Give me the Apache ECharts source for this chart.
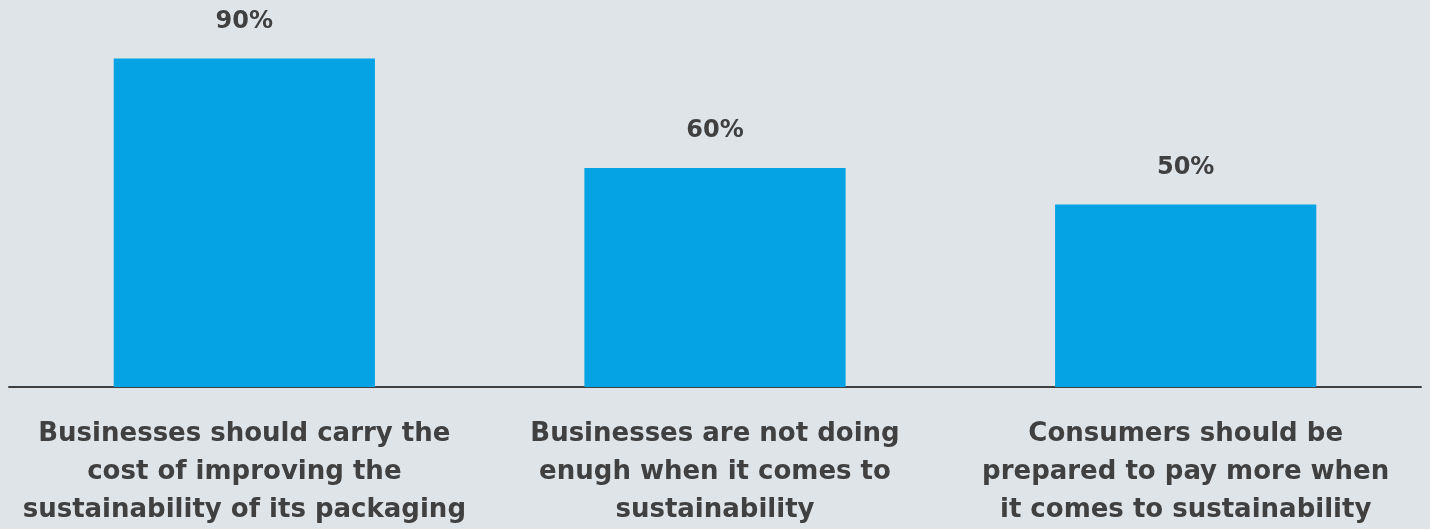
<!DOCTYPE html>
<html>
<head>
<meta charset="utf-8">
<script src="https://cdn.jsdelivr.net/npm/echarts@6/dist/echarts.min.js"></script>
<style>
  html, body { margin: 0; padding: 0; background: #dfe4e9; }
  #chart { width: 1430px; height: 529px; }
</style>
</head>
<body>
<div id="chart"></div>
<script>
const categories = [
  'Businesses should carry the\ncost of improving the\nsustainability of its packaging',
  'Businesses are not doing\nenugh when it comes to\nsustainability',
  'Consumers should be\nprepared to pay more when\nit comes to sustainability'
];
const values = [90, 60, 50];

const chart = echarts.init(document.getElementById('chart'));
chart.setOption({
  animation: false,
  backgroundColor: '#dfe4e9',
  grid: { left: 9, right: 9, top: 22, bottom: 136 },
  xAxis: {
    type: 'category',
    data: categories,
    axisLine: { lineStyle: { color: '#404040', width: 2 } },
    axisTick: { show: false },
    axisLabel: {
      interval: 0,
      margin: 28,
      color: '#404040',
      fontFamily: 'DejaVu Sans',
      fontWeight: 'bold',
      fontSize: 26,
      lineHeight: 38,
      align: 'center'
    }
  },
  yAxis: { type: 'value', min: 0, max: 100, show: false, splitLine: { show: false } },
  series: [{
    type: 'bar',
    data: values,
    barWidth: '55.5%',
    itemStyle: { color: '#05a3e3' },
    label: {
      show: true,
      position: 'top',
      distance: 25,
      formatter: '{c}%',
      color: '#404040',
      fontFamily: 'DejaVu Sans',
      fontWeight: 'bold',
      fontSize: 24
    }
  }]
});
</script>
</body>
</html>
